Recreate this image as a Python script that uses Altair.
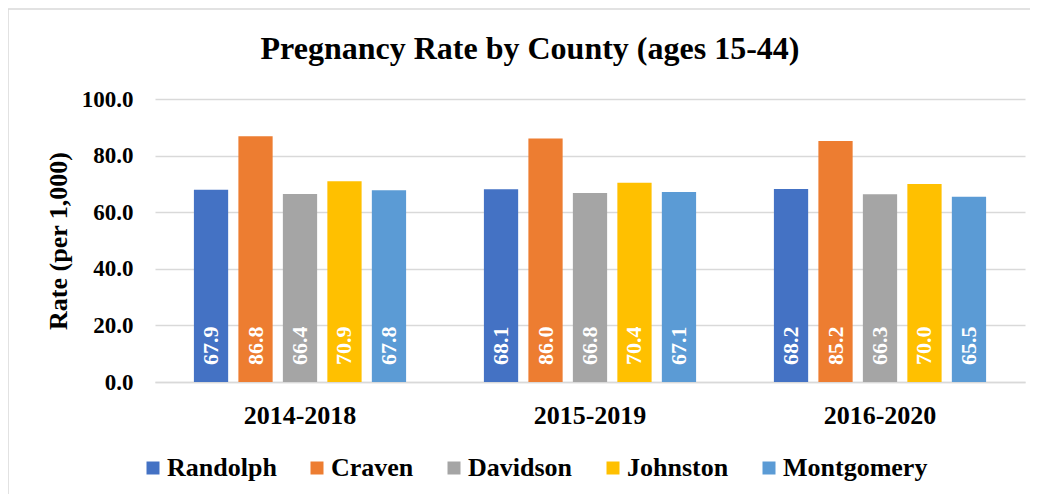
import altair as alt
import pandas as pd

periods = ["2014-2018", "2015-2019", "2016-2020"]
counties = ["Randolph", "Craven", "Davidson", "Johnston", "Montgomery"]
colors = ["#4472C4", "#ED7D31", "#A5A5A5", "#FFC000", "#5B9BD5"]
randolph = [67.9, 68.1, 68.2]
craven = [86.8, 86.0, 85.2]
davidson = [66.4, 66.8, 66.3]
johnston = [70.9, 70.4, 70.0]
montgomery = [67.8, 67.1, 65.5]

series = [randolph, craven, davidson, johnston, montgomery]
rows = []
for c, vals in zip(counties, series):
    for p, v in zip(periods, vals):
        rows.append({"period": p, "county": c, "rate": v})
df = pd.DataFrame(rows)

FONT = "Liberation Serif"

x = alt.X("period:N", sort=periods, title=None,
          scale=alt.Scale(paddingInner=0.233, paddingOuter=0.1165),
          axis=alt.Axis(labelAngle=0, labelFontSize=26, labelFontWeight="bold",
                        labelFont=FONT, labelColor="black", labelPadding=20,
                        ticks=False, domain=True, domainColor="#D9D9D9",
                        domainWidth=1.3))
xoff = alt.XOffset("county:N", sort=counties,
                   scale=alt.Scale(paddingInner=0.23, paddingOuter=0.115))

base = alt.Chart(df)

bars = base.mark_bar().encode(
    x=x,
    xOffset=xoff,
    y=alt.Y("rate:Q", title="Rate (per 1,000)",
            scale=alt.Scale(domain=[0, 100], nice=False),
            axis=alt.Axis(values=[0, 20, 40, 60, 80, 100], format=".1f",
                          labelFontSize=23, labelFontWeight="bold", labelFont=FONT,
                          labelColor="black", labelPadding=22, ticks=False,
                          domain=False, grid=True, gridColor="#D9D9D9",
                          gridWidth=1.3, titleFontSize=26, titleFont=FONT,
                          titleFontWeight="bold", titleColor="black",
                          titlePadding=10)),
    color=alt.Color("county:N", sort=counties,
                    scale=alt.Scale(domain=counties, range=colors),
                    legend=alt.Legend(title=None, orient="none", direction="horizontal",
                                      legendX=-15, legendY=356,
                                      symbolType="square", symbolSize=169,
                                      symbolStrokeWidth=0, labelFontSize=26,
                                      labelFont=FONT, labelFontWeight="bold",
                                      labelColor="black", columnPadding=27,
                                      labelOffset=1)),
)

labels = base.mark_text(angle=270, align="left", baseline="middle", dx=17,
                        color="white", font=FONT, fontWeight="bold",
                        fontSize=22).encode(
    x=alt.X("period:N", sort=periods),
    xOffset=alt.XOffset("county:N", sort=counties),
    y=alt.datum(0),
    text=alt.Text("rate:Q", format=".1f"),
)

border = alt.Chart(pd.DataFrame({"a": [0]})).mark_rect(
    fill=None, stroke="#D9D9D9", strokeWidth=1.5).encode(
    x=alt.value(-147), x2=alt.value(920),
    y=alt.value(-90), y2=alt.value(430),
)

chart = alt.layer(border, bars, labels).properties(
    width=870, height=283,
    title=alt.Title("Pregnancy Rate by County (ages 15-44)", fontSize=32,
                    font=FONT, fontWeight="bold", color="black",
                    anchor="middle", dx=-60, offset=-58),
    autosize=alt.AutoSizeParams(type="none"),
    padding={"left": 147, "top": 91, "right": 5, "bottom": 112},
).configure(font=FONT).configure_axis(
    labelFont=FONT, titleFont=FONT
).configure_legend(
    labelFont=FONT
).configure_text(font=FONT).configure_view(stroke=None)

chart.save("out.html", embed_options={"renderer": "svg", "actions": False})
